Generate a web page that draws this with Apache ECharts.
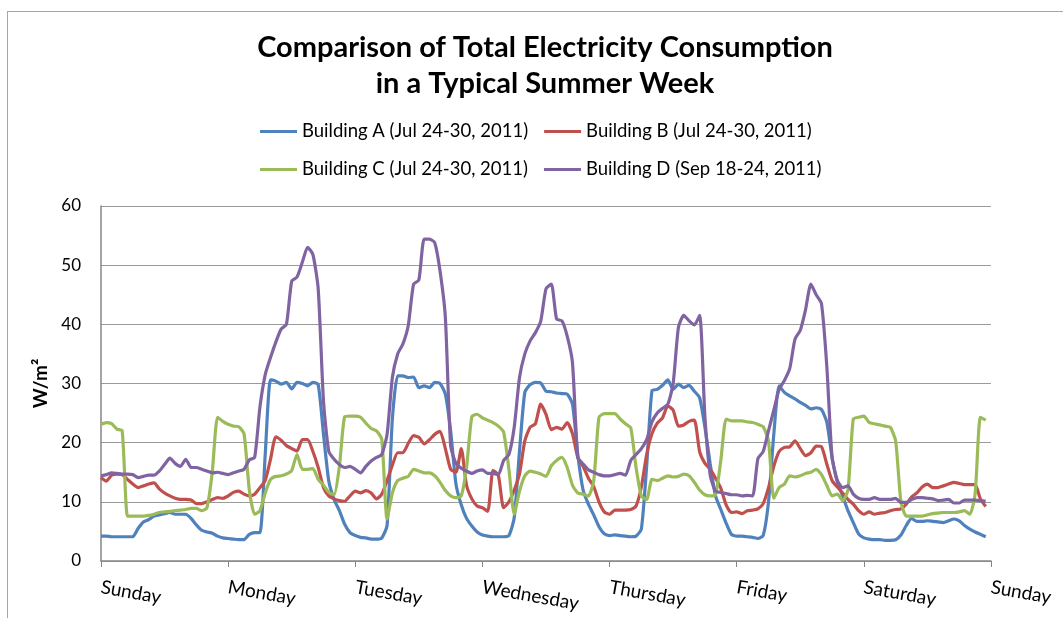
<!DOCTYPE html>
<html>
<head>
<meta charset="utf-8">
<script src="https://cdn.jsdelivr.net/npm/echarts@6/dist/echarts.min.js"></script>
<style>
  body { margin: 0; background: #fff; }
  #frame { position: absolute; left: 7px; top: 11px; width: 1100px; height: 700px; border: 1px solid #a6a6a6; }
  #chart { position: absolute; left: 0; top: 0; width: 1063px; height: 618px; }
</style>
</head>
<body>
<div id="frame"></div>
<div id="chart"></div>
<script>
// tick labels, one per day boundary (every 24 hours)
var days = ['Sunday', 'Monday', 'Tuesday', 'Wednesday', 'Thursday', 'Friday', 'Saturday', 'Sunday'];

var names = [
  'Building A (Jul 24-30, 2011)',
  'Building B (Jul 24-30, 2011)',
  'Building C (Jul 24-30, 2011)',
  'Building D (Sep 18-24, 2011)'
];

// hourly values, W/m2, hour 0 = Sunday 00:00
var buildingA = [
  4.2, 4.2, 4.1, 4.1, 4.1, 4.1, 4.1, 5.5, 6.6, 7.0, 7.6, 7.8, 8.0, 8.2, 7.9, 7.9, 7.9, 7.2, 6.1, 5.2, 4.9, 4.7, 4.2, 3.9,
  3.8, 3.7, 3.6, 3.6, 4.5, 4.8, 4.8, 18.0, 30.6, 30.4, 29.9, 30.2, 29.1, 30.2, 30.0, 29.6, 30.2, 29.8, 21.4, 13.5, 10.4, 8.5, 6.2, 4.8,
  4.3, 4.0, 3.9, 3.7, 3.7, 3.9, 6.0, 24.0, 31.3, 31.3, 31.0, 31.1, 29.3, 29.6, 29.3, 30.2, 30.0, 28.2, 22.0, 13.0, 9.5, 7.2, 5.9, 4.9,
  4.4, 4.2, 4.1, 4.1, 4.1, 4.3, 7.3, 18.6, 28.5, 29.8, 30.2, 30.1, 28.7, 28.6, 28.4, 28.3, 28.2, 26.5, 18.0, 12.0, 9.6, 7.8, 5.8, 4.6,
  4.3, 4.4, 4.3, 4.2, 4.1, 4.2, 5.4, 16.0, 28.8, 29.0, 29.7, 30.6, 29.0, 29.9, 29.3, 29.7, 28.7, 27.6, 22.6, 16.4, 11.0, 8.7, 6.4, 4.5,
  4.2, 4.2, 4.1, 4.0, 3.8, 4.3, 10.0, 21.4, 29.6, 28.5, 27.9, 27.4, 26.8, 26.3, 25.7, 25.9, 25.6, 23.5, 17.5, 13.3, 11.0, 8.5, 6.5, 4.6,
  3.9, 3.7, 3.6, 3.6, 3.5, 3.5, 3.6, 4.4, 6.0, 7.2, 6.7, 6.7, 6.8, 6.7, 6.6, 6.5, 6.8, 7.1, 6.8, 6.0, 5.4, 4.9, 4.5, 4.1
];
var buildingB = [
  14.1, 13.5, 14.5, 14.7, 14.6, 13.8, 13.0, 12.4, 12.7, 13.0, 13.2, 12.2, 11.5, 11.0, 10.6, 10.4, 10.4, 10.3, 9.7, 9.7, 10.0, 10.4, 10.7, 10.6,
  11.0, 11.6, 11.8, 11.3, 11.0, 11.3, 12.4, 13.6, 17.2, 21.0, 20.4, 19.5, 19.0, 18.6, 20.5, 20.5, 18.5, 15.8, 12.4, 11.0, 10.5, 10.2, 10.1, 11.0,
  11.8, 11.5, 11.9, 11.5, 10.5, 11.3, 13.6, 16.2, 18.3, 18.3, 19.9, 21.2, 20.9, 19.8, 20.5, 21.4, 21.9, 19.0, 15.5, 15.0, 19.0, 12.8, 10.5, 9.3,
  9.0, 8.4, 15.3, 14.5, 9.0, 10.0, 12.0, 14.7, 20.3, 22.6, 23.2, 26.5, 24.8, 22.2, 22.6, 22.3, 23.4, 21.5, 17.5, 16.0, 14.0, 12.6, 10.0, 8.3,
  7.9, 8.6, 8.6, 8.6, 8.7, 9.3, 12.5, 18.0, 21.5, 23.3, 24.2, 26.2, 25.5, 22.8, 23.0, 23.6, 23.8, 18.5, 16.5, 15.5, 14.0, 12.3, 9.5, 8.2,
  8.3, 8.0, 8.5, 8.6, 8.8, 9.7, 12.4, 16.0, 18.5, 19.2, 19.3, 20.3, 19.0, 17.8, 18.3, 19.4, 19.3, 16.4, 13.6, 12.5, 11.5, 10.4, 9.6, 8.5,
  7.9, 8.3, 7.9, 8.1, 8.2, 8.5, 8.7, 8.8, 9.6, 10.8, 11.5, 12.5, 13.0, 12.4, 12.4, 12.7, 13.0, 13.3, 13.1, 12.9, 12.9, 12.9, 10.5, 9.2
];
var buildingC = [
  23.1, 23.4, 23.2, 22.3, 22.0, 7.6, 7.6, 7.6, 7.6, 7.7, 7.9, 8.2, 8.3, 8.4, 8.5, 8.6, 8.7, 8.9, 8.9, 8.5, 9.0, 15.0, 24.3, 23.6,
  23.1, 22.8, 22.7, 21.5, 12.0, 7.9, 8.5, 11.5, 13.8, 14.3, 14.4, 14.7, 15.3, 18.0, 15.5, 15.5, 15.6, 13.8, 12.8, 11.6, 11.2, 16.0, 24.4, 24.5,
  24.5, 24.3, 23.3, 22.4, 22.0, 20.6, 7.1, 11.5, 13.6, 14.0, 14.3, 15.5, 15.2, 14.9, 14.9, 14.4, 13.3, 11.9, 11.0, 10.7, 11.0, 15.8, 24.4, 24.8,
  24.2, 23.8, 23.4, 22.8, 21.8, 15.5, 7.9, 11.8, 14.4, 15.2, 15.0, 14.7, 14.3, 16.1, 17.0, 17.5, 15.8, 12.8, 11.5, 11.3, 11.0, 13.5, 24.3, 24.9,
  24.9, 24.9, 24.0, 23.2, 22.5, 15.8, 11.0, 10.4, 13.8, 13.6, 14.0, 14.4, 14.2, 14.3, 14.7, 14.4, 13.3, 12.0, 11.2, 11.0, 11.2, 17.0, 24.0, 23.7,
  23.7, 23.7, 23.5, 23.4, 23.1, 22.7, 20.3, 10.6, 12.4, 13.0, 14.4, 14.2, 14.4, 14.8, 15.0, 15.5, 14.6, 12.8, 11.0, 11.3, 10.2, 12.0, 24.0, 24.3,
  24.5, 23.4, 23.2, 23.0, 22.8, 22.6, 20.3, 10.0, 7.6, 7.6, 7.6, 7.6, 7.8, 8.0, 8.1, 8.2, 8.2, 8.2, 8.3, 8.5, 7.9, 11.3, 24.3, 23.8
];
var buildingD = [
  14.4, 14.6, 14.9, 14.8, 14.7, 14.7, 14.6, 14.1, 14.3, 14.5, 14.5, 15.2, 16.3, 17.4, 16.5, 16.0, 17.2, 15.8, 15.8, 15.5, 15.2, 14.9, 15.0, 14.8,
  14.6, 14.9, 15.2, 15.5, 17.1, 17.5, 26.0, 31.5, 34.4, 37.0, 39.2, 40.0, 47.3, 48.0, 50.5, 53.0, 51.8, 46.0, 27.0, 18.5, 17.2, 16.3, 15.8, 16.0,
  15.5, 14.9, 16.0, 16.9, 17.5, 18.0, 21.4, 31.0, 35.0, 36.7, 39.8, 46.8, 47.5, 54.4, 54.4, 53.8, 49.0, 41.2, 19.5, 16.5, 15.7, 15.2, 14.8, 15.2,
  15.4, 14.8, 14.8, 14.6, 17.0, 18.0, 22.6, 31.0, 35.0, 37.2, 38.6, 40.5, 46.0, 46.8, 40.9, 40.6, 38.0, 33.5, 17.5, 16.4, 15.4, 15.0, 14.6, 14.4,
  14.4, 14.6, 14.8, 14.5, 17.0, 18.0, 19.0, 20.5, 23.5, 25.0, 25.8, 26.5, 30.0, 39.5, 41.5, 40.6, 39.9, 41.5, 24.3, 14.5, 11.8, 11.6, 11.4, 11.2,
  11.2, 11.0, 11.1, 11.0, 17.3, 18.5, 22.0, 25.5, 29.0, 30.5, 32.5, 37.5, 39.0, 42.5, 46.8, 45.0, 43.5, 33.0, 17.5, 13.6, 12.4, 12.7, 11.3, 10.6,
  10.4, 10.4, 10.7, 10.4, 10.4, 10.4, 10.6, 9.9, 9.9, 10.4, 10.7, 10.7, 10.6, 10.5, 10.2, 10.3, 10.4, 9.8, 9.8, 10.3, 10.3, 10.3, 10.2, 10.1
];

var colors = ['#4F81BD', '#C0504D', '#9BBB59', '#8064A2'];
var allData = [buildingA, buildingB, buildingC, buildingD];

var chartDom = document.getElementById('chart');
var myChart = echarts.init(chartDom);
var font = 'Lato, "Open Sans", sans-serif';

var series = allData.map(function (arr, i) {
  return {
    name: names[i],
    type: 'line',
    smooth: 0.2,
    symbol: 'none',
    color: colors[i],
    lineStyle: { width: 3.2, color: colors[i] },
    data: arr.map(function (v, h) { return [h, v]; })
  };
});

var legendText = { fontFamily: font, fontSize: 18.5, color: '#000' };

var option = {
  animation: false,
  textStyle: { fontFamily: font },
  title: {
    text: 'Comparison of Total Electricity Consumption\nin a Typical Summer Week',
    left: 540,
    top: 25,
    textAlign: 'center',
    textStyle: { fontFamily: font, fontSize: 29, fontWeight: 'bold', color: '#000', lineHeight: 36 }
  },
  legend: [
    {
      data: [names[0], names[1]],
      left: 255, top: 117,
      icon: 'rect', itemWidth: 37, itemHeight: 3, itemGap: 16,
      textStyle: legendText
    },
    {
      data: [names[2], names[3]],
      left: 255, top: 155,
      icon: 'rect', itemWidth: 37, itemHeight: 3, itemGap: 16,
      textStyle: legendText
    }
  ],
  grid: { left: 101, right: 72, top: 206, bottom: 57 },
  xAxis: {
    type: 'value',
    min: 0,
    max: 168,
    interval: 24,
    axisLine: { lineStyle: { color: '#868686', width: 1.5 } },
    axisTick: { show: true, length: 6, lineStyle: { color: '#868686' } },
    splitLine: { show: false },
    axisLabel: {
      rotate: -10,
      margin: 26,
      fontSize: 19,
      color: '#000',
      fontFamily: font,
      formatter: function (v) { return days[Math.round(v / 24)]; }
    }
  },
  yAxis: {
    type: 'value',
    min: 0,
    max: 60,
    interval: 10,
    name: 'W/m²',
    nameLocation: 'middle',
    nameRotate: 90,
    nameGap: 49,
    nameTextStyle: { fontFamily: font, fontSize: 19, fontWeight: 'bold', color: '#000' },
    axisLine: { show: true, lineStyle: { color: '#868686', width: 1.5 } },
    axisTick: { show: false },
    axisLabel: { fontSize: 17, color: '#000', margin: 20, fontFamily: font },
    splitLine: { lineStyle: { color: '#9a9a9a', width: 1.2 } }
  },
  series: series
};
myChart.setOption(option);
</script>
</body>
</html>
